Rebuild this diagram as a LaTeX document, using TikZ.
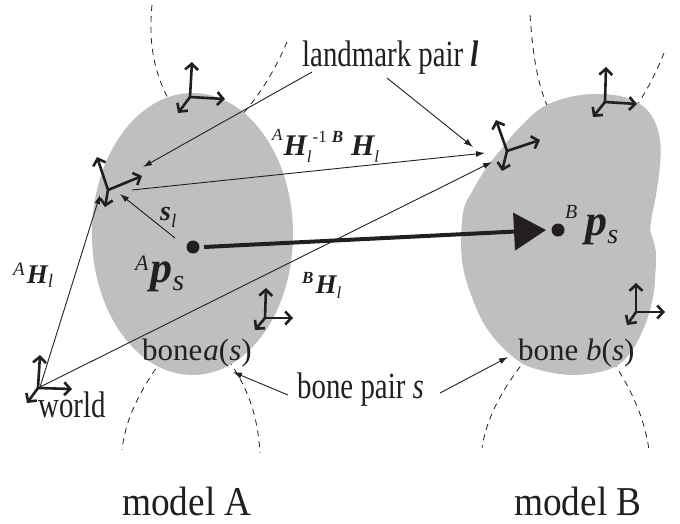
\documentclass[tikz,border=0pt]{standalone}
\usepackage{fontspec}
\setmainfont{Liberation Serif}
\newfontfamily\lblfont[FakeStretch=0.78]{Liberation Serif}
\newfontfamily\modelfont[FakeStretch=0.91]{Liberation Serif}
\usetikzlibrary{arrows.meta}
\definecolor{bonegray}{RGB}{190,191,193}
\definecolor{ink}{RGB}{35,31,32}
\newcommand\fs[1]{\fontsize{#1}{#1}\selectfont}
\newcommand\nodepth[1]{\raisebox{0pt}[\height][0pt]{#1}}
\tikzset{
  bonefill/.style={fill=bonegray, draw=none},
  neighbor/.style={draw=ink, line width=0.8pt, dash pattern=on 6pt off 5pt},
  axis/.style={draw=ink, line width=2.6pt, -{Straight Barb[length=6pt,width=13pt]}},
  thinarrow/.style={draw=ink, line width=0.9pt, -{Latex[length=9pt,width=6pt]}},
  bigarrow/.style={draw=ink, line width=4pt, -{Triangle[length=32pt,width=37pt]}},
  lbl/.style={inner sep=0pt, anchor=base west, text=ink, font=\lblfont\fs{37}},
  bonelbl/.style={inner sep=0pt, anchor=base west, text=ink, font=\fs{31}},
  modellbl/.style={inner sep=0pt, anchor=base west, text=ink, font=\modelfont\fs{41}},
  mathlbl/.style={inner sep=0pt, anchor=base west, text=ink},
  dotmark/.style={fill=ink, draw=none}
}
\newcommand\triad[4]{%
  \draw[axis] (#1) -- ++(#2);
  \draw[axis] (#1) -- ++(#3);
  \draw[axis] (#1) -- ++(#4);}
\begin{document}
\begin{tikzpicture}[x=1pt,y=-1pt]
\useasboundingbox (0,0) rectangle (680,523);

% neighbouring bones (dashed)
\draw[neighbor] (152,5) .. controls (148,45) and (155,75) .. (170,102);
\draw[neighbor] (287,42) .. controls (275,70) and (260,95) .. (240,117);
\draw[neighbor] (162,360) .. controls (140,390) and (125,420) .. (122,450);
\draw[neighbor] (228,360) .. controls (250,390) and (258,420) .. (260,453);
\draw[neighbor] (530,15) .. controls (533,55) and (537,85) .. (550,112);
\draw[neighbor] (664,53) .. controls (655,75) and (645,95) .. (630,115);
\draw[neighbor] (527,358) .. controls (505,385) and (487,415) .. (482,448);
\draw[neighbor] (613,362) .. controls (632,390) and (645,420) .. (649,450);

% bones
\fill[bonefill] (192.5,234) ellipse (100.5 and 141);
\fill[bonefill] plot[smooth, tension=0.6] coordinates {(650,230) (655,247) (656,260) (653,297) (643,330) (627,357) (607,370) (573,375) (540,370) (517,360) (490,333) (473,300) (462,260) (463,213) (473,190) (487,167) (503,147) (520,127) (543,107) (570,97) (595,94) (620,96) (640,104) (653,118) (660,140) (660,165) (656,195) (652,215) (650,230)} -- cycle;

% frame origins
\coordinate (fAtop) at (190,97);
\coordinate (lmA) at (108,190);
\coordinate (lmB) at (507,151);
\coordinate (fBtop) at (605,102);
\coordinate (fAlow) at (265,318);
\coordinate (fBlow) at (636,312);
\coordinate (world) at (38,388);

% connector end points
\coordinate (worldstart) at (40,387);
\coordinate (lmAtipW) at (100,195);
\coordinate (lmBtipW) at (492,162);
\coordinate (lmAout) at (132,190);
\coordinate (lmBin) at (485,153);
\coordinate (lmLabA) at (312,72);
\coordinate (lmLabB) at (387,78);
\coordinate (lmAin) at (143,167);
\coordinate (lmBin2) at (473,147);
\coordinate (bpA) at (288,395);
\coordinate (bpB) at (440,393);
\coordinate (boneAedge) at (233,372);
\coordinate (boneBedge) at (508,357);
\coordinate (psA) at (193,247);
\coordinate (psAout) at (204,247);
\coordinate (slstart) at (175,238);
\coordinate (slend) at (120,194);
\coordinate (psB) at (558,230);
\coordinate (psBtip) at (546,230);

% thin connectors
\draw[thinarrow] (worldstart) -- (lmAtipW);
\draw[thinarrow] (worldstart) -- (lmBtipW);
\draw[thinarrow] (lmAout) -- (lmBin);
\draw[thinarrow] (lmLabA) -- (lmAin);
\draw[thinarrow] (lmLabB) -- (lmBin2);
\draw[thinarrow] (bpA) -- (boneAedge);
\draw[thinarrow] (bpB) -- (boneBedge);
\draw[thinarrow] (slstart) -- (slend);

% big arrow
\draw[bigarrow] (psAout) -- (psBtip);
\fill[dotmark] (psA) circle (6.5);
\fill[dotmark] (psB) circle (6.5);

% coordinate frames
\triad{fAtop}{2,-35}{35,2}{-12,16}
\triad{lmA}{-11,-33}{34,-14}{-3,17}
\triad{lmB}{-11,-31}{33,-11}{-5,20}
\triad{fBtop}{1,-35}{32,2}{-12,15}
\triad{fAlow}{1,-30}{28,0}{-10,12}
\triad{fBlow}{0,-29}{29,0}{-9,13}
\triad{world}{2,-33}{34,1}{-11,15}

% labels
\node[lbl] (lmlab) at (302,66) {landmark pair {\bfseries\itshape l}};
\node[lbl] (bplab) at (297,398) {bone pair {\itshape s}};
\node[lbl] (worldlab) at (38,417) {world};
\node[bonelbl] (boneAlab) at (142,360) {bone\kern1pt{\itshape a}({\itshape s})};
\node[bonelbl] (boneBlab) at (518,360) {bone {\itshape b}({\itshape s})};
\node[modellbl] (mA) at (122,515) {\nodepth{model A}};
\node[modellbl] (mB) at (514,515) {\nodepth{model B}};

\node[mathlbl] (AHl) at (13,283) {\raisebox{8pt}{\fs{19}\itshape A}\kern2pt{\fs{27}\bfseries\itshape H}\raisebox{-4pt}{\fs{19}\itshape l}};
\node[mathlbl] (AHinvBH) at (272,155) {\raisebox{15pt}{\fs{17}\itshape A}\kern1pt{\fs{30}\bfseries\itshape H}\raisebox{-7pt}{\fs{17}\itshape l}\kern1pt\raisebox{13pt}{\fs{17}-1}\kern5pt\raisebox{13pt}{\fs{17}\bfseries\itshape B}\kern8pt{\fs{30}\bfseries\itshape H}\raisebox{-7pt}{\fs{17}\itshape l}};
\node[mathlbl] (BHl) at (302,293) {\raisebox{10pt}{\fs{17}\bfseries\itshape B}\kern2pt{\fs{27}\bfseries\itshape H}\raisebox{-5pt}{\fs{17}\itshape l}};
\node[mathlbl] (sl) at (160,220) {{\fs{28}\bfseries\itshape s}\raisebox{-7pt}{\fs{19}\itshape l}};
\node[mathlbl] (Aps) at (135,282) {\raisebox{12pt}{\fs{22}\itshape A}\kern2pt{\fs{44}\bfseries\itshape p}\raisebox{-8pt}{\fs{30}\itshape s}};
\node[mathlbl] (Bps) at (565,235) {\raisebox{17pt}{\fs{20}\itshape B}\kern8pt{\fs{44}\bfseries\itshape p}\raisebox{-8pt}{\fs{28}\itshape s}};
\end{tikzpicture}
\end{document}
